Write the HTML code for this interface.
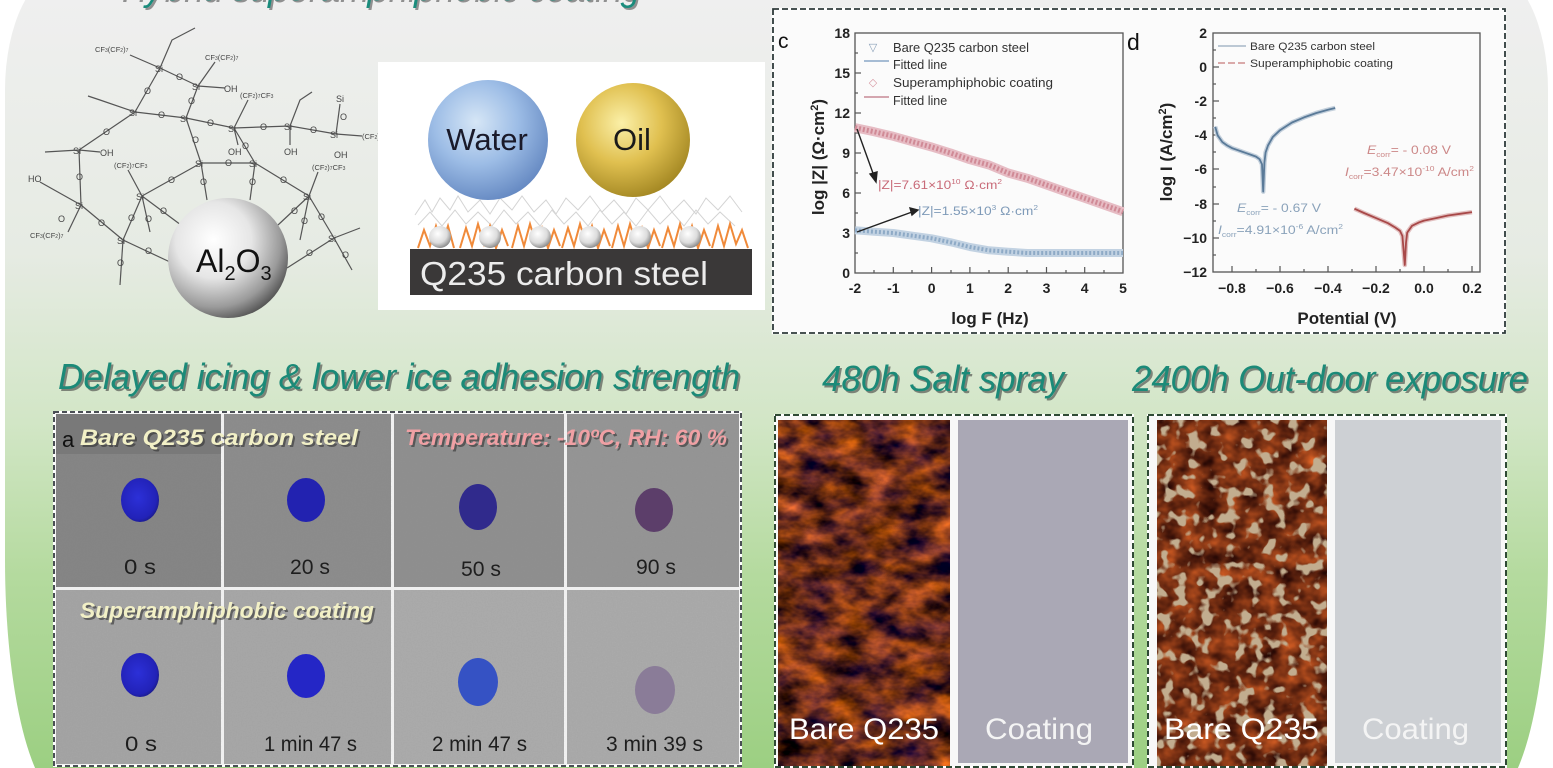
<!DOCTYPE html>
<html><head><meta charset="utf-8"><style>
html,body{margin:0;padding:0;background:#fff;}
svg{display:block;}
text{font-family:"Liberation Sans",Arial,sans-serif;}
</style></head><body>
<svg width="1553" height="768" viewBox="0 0 1553 768" xmlns="http://www.w3.org/2000/svg">
<defs>
 <linearGradient id="bg" x1="0" y1="0" x2="0" y2="768" gradientUnits="userSpaceOnUse">
  <stop offset="0" stop-color="#efefef"/>
  <stop offset="0.33" stop-color="#e6ebe3"/>
  <stop offset="0.55" stop-color="#d2e6c6"/>
  <stop offset="0.75" stop-color="#b4da9e"/>
  <stop offset="1" stop-color="#9ccf82"/>
 </linearGradient>
 <radialGradient id="al" cx="0.38" cy="0.35" r="0.7">
  <stop offset="0" stop-color="#ffffff"/><stop offset="0.45" stop-color="#e6e6e6"/><stop offset="0.8" stop-color="#9a9a9a"/><stop offset="1" stop-color="#505050"/>
 </radialGradient>
 <radialGradient id="water" cx="0.4" cy="0.35" r="0.7">
  <stop offset="0" stop-color="#d6e6f6"/><stop offset="0.5" stop-color="#9dbde6"/><stop offset="1" stop-color="#6286c0"/>
 </radialGradient>
 <radialGradient id="oil" cx="0.4" cy="0.35" r="0.7">
  <stop offset="0" stop-color="#fbf0a8"/><stop offset="0.5" stop-color="#e0c050"/><stop offset="1" stop-color="#a08420"/>
 </radialGradient>
 <radialGradient id="ball" cx="0.4" cy="0.35" r="0.7">
  <stop offset="0" stop-color="#ffffff"/><stop offset="0.6" stop-color="#dcdcdc"/><stop offset="1" stop-color="#808080"/>
 </radialGradient>
 <radialGradient id="dropB" cx="0.45" cy="0.45" r="0.6">
  <stop offset="0" stop-color="#2c30d8"/><stop offset="0.8" stop-color="#2222b8"/><stop offset="1" stop-color="#1a1a80"/>
 </radialGradient>
 <filter id="rust1" x="0" y="0" width="1" height="1" color-interpolation-filters="sRGB">
  <feTurbulence type="fractalNoise" baseFrequency="0.03 0.05" numOctaves="4" seed="7"/>
  <feColorMatrix type="matrix" values="1.5 0 0 0 -0.33  0.75 0 0 0 -0.2  0.1 0.3 0 0 -0.1  0 0 0 0 1"/>
 </filter>
 <filter id="rust2" x="0" y="0" width="1" height="1" color-interpolation-filters="sRGB">
  <feTurbulence type="fractalNoise" baseFrequency="0.05 0.06" numOctaves="3" seed="11"/>
  <feColorMatrix type="matrix" values="1.1 0 0 0 -0.1  0.55 0 0 0 -0.1  0.2 0 0 0 -0.03  0 0 0 0 1"/>
 </filter>
 <filter id="spots" x="0" y="0" width="1" height="1" color-interpolation-filters="sRGB">
  <feTurbulence type="fractalNoise" baseFrequency="0.08" numOctaves="2" seed="3"/>
  <feColorMatrix type="matrix" values="0 0 0 0 0.76  0 0 0 0 0.68  0 0 0 0 0.56  9 0 0 0 -4.9"/>
 </filter>
 <filter id="grain" x="0" y="0" width="1" height="1" color-interpolation-filters="sRGB">
  <feTurbulence type="fractalNoise" baseFrequency="0.8" numOctaves="1" seed="2"/>
  <feColorMatrix type="matrix" values="0 0 0 0 0.5  0 0 0 0 0.5  0 0 0 0 0.5  0 0 0 0.5 -0.15"/>
 </filter>
</defs>

<!-- background shape -->
<rect x="0" y="0" width="1553" height="768" fill="#ffffff"/>
<path d="M 65,-30 H 1488 A 60 120 0 0 1 1548 90 V 560 A 60 240 0 0 1 1488 800 H 65 A 60 240 0 0 1 5 560 V 90 A 60 120 0 0 1 65 -30 Z" fill="url(#bg)"/>

<!-- top title (cut off) -->
<text x="122" y="2" font-size="38" font-style="italic" fill="#333" opacity="0.5" textLength="520" lengthAdjust="spacingAndGlyphs">Hybrid superamphiphobic coating</text>
<text x="120" y="0" font-size="38" font-style="italic" fill="#1a8c7c" textLength="520" lengthAdjust="spacingAndGlyphs">Hybrid superamphiphobic coating</text>

<!-- chemical structure -->
<g stroke="#555" stroke-width="1.2" fill="none">
 <line x1="160" y1="68" x2="198" y2="86"/><line x1="160" y1="68" x2="135" y2="112"/>
 <line x1="198" y1="86" x2="186" y2="118"/><line x1="135" y1="112" x2="186" y2="118"/>
 <line x1="186" y1="118" x2="234" y2="128"/><line x1="234" y1="128" x2="290" y2="126"/>
 <line x1="290" y1="126" x2="336" y2="134"/><line x1="135" y1="112" x2="79" y2="150"/>
 <line x1="186" y1="118" x2="201" y2="163"/><line x1="201" y1="163" x2="255" y2="163"/>
 <line x1="234" y1="128" x2="255" y2="163"/><line x1="201" y1="163" x2="142" y2="196"/>
 <line x1="255" y1="163" x2="309" y2="196"/><line x1="142" y1="196" x2="123" y2="240"/>
 <line x1="81" y1="205" x2="123" y2="240"/><line x1="79" y1="150" x2="81" y2="205"/>
 <line x1="309" y1="196" x2="334" y2="238"/><line x1="142" y1="196" x2="185" y2="228"/>
 <line x1="201" y1="163" x2="207" y2="200"/><line x1="255" y1="163" x2="250" y2="200"/>
 <line x1="309" y1="196" x2="278" y2="225"/><line x1="123" y1="240" x2="170" y2="262"/>
 <line x1="334" y1="238" x2="287" y2="268"/><line x1="142" y1="196" x2="150" y2="232"/>
 <line x1="309" y1="196" x2="300" y2="240"/>
 <polyline points="160,68 172,40 195,28"/><polyline points="160,68 130,55"/>
 <polyline points="198,86 215,62"/><polyline points="198,86 225,88"/>
 <polyline points="135,112 100,100 88,96"/><polyline points="79,150 45,152"/>
 <polyline points="290,126 300,100 312,92"/><polyline points="336,134 340,104"/>
 <polyline points="336,134 362,136"/><polyline points="334,238 360,228"/>
 <polyline points="334,238 352,270"/><polyline points="123,240 120,285"/>
 <polyline points="81,205 40,182"/><polyline points="81,205 68,232"/>
 <polyline points="234,128 238,145"/><polyline points="290,126 290,145"/>
 <polyline points="79,150 100,152"/><polyline points="142,196 128,170"/>
 <polyline points="309,196 318,172"/><polyline points="234,128 248,100"/>
</g>
<g font-size="9" fill="#444">
 <text x="155" y="72">Si</text><text x="192" y="90">Si</text><text x="129" y="116">Si</text>
 <text x="180" y="122">Si</text><text x="228" y="132">Si</text><text x="284" y="130">Si</text>
 <text x="330" y="138">Si</text><text x="73" y="154">Si</text><text x="195" y="167">Si</text>
 <text x="249" y="167">Si</text><text x="136" y="200">Si</text><text x="303" y="200">Si</text>
 <text x="75" y="209">Si</text><text x="117" y="244">Si</text><text x="328" y="242">Si</text>
 <text x="336" y="102">Si</text>
 <text x="176" y="80">O</text><text x="144" y="94">O</text><text x="188" y="104">O</text>
 <text x="158" y="118">O</text><text x="207" y="126">O</text><text x="260" y="130">O</text>
 <text x="310" y="133">O</text><text x="103" y="135">O</text><text x="192" y="143">O</text>
 <text x="225" y="166">O</text><text x="242" y="149">O</text><text x="168" y="183">O</text>
 <text x="280" y="183">O</text><text x="128" y="221">O</text><text x="98" y="226">O</text>
 <text x="76" y="180">O</text><text x="318" y="220">O</text><text x="160" y="214">O</text>
 <text x="200" y="185">O</text><text x="249" y="185">O</text><text x="291" y="214">O</text>
 <text x="145" y="254">O</text><text x="306" y="256">O</text><text x="145" y="222">O</text>
 <text x="301" y="224">O</text><text x="340" y="120">O</text><text x="342" y="258">O</text>
 <text x="117" y="266">O</text><text x="58" y="222">O</text>
</g>
<g font-size="7.5" fill="#444">
 <text x="95" y="52">CF<tspan font-size="5">3</tspan>(CF<tspan font-size="5">2</tspan>)<tspan font-size="5">7</tspan></text>
 <text x="205" y="60">CF<tspan font-size="5">3</tspan>(CF<tspan font-size="5">2</tspan>)<tspan font-size="5">7</tspan></text>
 <text x="240" y="98">(CF<tspan font-size="5">2</tspan>)<tspan font-size="5">7</tspan>CF<tspan font-size="5">3</tspan></text>
 <text x="362" y="139">(CF<tspan font-size="5">2</tspan>)<tspan font-size="5">7</tspan>CF<tspan font-size="5">3</tspan></text>
 <text x="114" y="168">(CF<tspan font-size="5">2</tspan>)<tspan font-size="5">7</tspan>CF<tspan font-size="5">3</tspan></text>
 <text x="312" y="170">(CF<tspan font-size="5">2</tspan>)<tspan font-size="5">7</tspan>CF<tspan font-size="5">3</tspan></text>
 <text x="30" y="238">CF<tspan font-size="5">3</tspan>(CF<tspan font-size="5">2</tspan>)<tspan font-size="5">7</tspan></text>
</g>
<g font-size="9" fill="#444">
 <text x="224" y="92">OH</text><text x="228" y="155">OH</text><text x="284" y="155">OH</text>
 <text x="334" y="158">OH</text><text x="100" y="156">OH</text><text x="28" y="182">HO</text>
</g>
<circle cx="228" cy="258" r="60" fill="url(#al)"/>
<text x="196" y="272" font-size="32" fill="#111">Al<tspan font-size="20" dy="8">2</tspan><tspan dy="-8">O</tspan><tspan font-size="20" dy="8">3</tspan></text>

<!-- water/oil panel -->
<rect x="378" y="62" width="387" height="248" fill="#ffffff"/>
<g stroke="#d4d4d4" stroke-width="1" fill="none">
 <polyline points="415,215 425,200 432,212 440,198 450,210 458,196 468,212 480,200 490,214 500,198 512,210 522,196 534,212 546,200 556,214 566,198 578,210 590,196 602,212 614,200 626,214 636,198 648,210 660,196 672,212 684,200 696,214 706,198 718,210 730,196 742,212"/>
 <polyline points="418,225 430,212 442,226 455,210 466,224 478,212 492,226 504,210 516,224 528,212 540,226 552,210 564,224 576,212 588,226 600,210 612,224 624,212 636,226 648,210 660,224 672,212 684,226 696,210 708,224 720,212 735,226"/>
</g>
<g stroke="#f08a3a" stroke-width="2" fill="none">
 <polyline points="418,248 424,230 430,246 436,226 442,244 448,226 454,248"/>
 <polyline points="460,248 466,228 472,246 478,224 484,244 490,226 496,248 502,230 508,246"/>
 <polyline points="512,248 518,226 524,246 530,224 536,244 542,228 548,248 554,230 560,246"/>
 <polyline points="562,248 568,228 574,246 580,224 586,244 592,226 598,248 604,230 610,246"/>
 <polyline points="612,248 618,226 624,246 630,224 636,244 642,228 648,248 654,230 660,246"/>
 <polyline points="662,248 668,228 674,246 680,224 686,244 692,226 698,248 704,230 710,246"/>
 <polyline points="712,248 718,226 724,246 730,224 736,244 742,230 748,248"/>
</g>
<g fill="url(#ball)">
 <circle cx="440" cy="237" r="11"/><circle cx="490" cy="237" r="11"/><circle cx="540" cy="237" r="11"/>
 <circle cx="590" cy="237" r="11"/><circle cx="640" cy="237" r="11"/><circle cx="690" cy="237" r="11"/>
</g>
<rect x="410" y="249" width="342" height="46" fill="#3a3838"/>
<text x="420" y="285" font-size="33" fill="#ececec" textLength="288" lengthAdjust="spacingAndGlyphs">Q235 carbon steel</text>
<circle cx="488" cy="140" r="60" fill="url(#water)"/>
<circle cx="633" cy="140" r="57" fill="url(#oil)"/>
<text x="487" y="150" font-size="31" fill="#1a1a2a" text-anchor="middle">Water</text>
<text x="632" y="150" font-size="31" fill="#1a1a1a" text-anchor="middle">Oil</text>

<!-- chart panel c+d -->
<rect x="773" y="9" width="732" height="324" fill="#fbfbfb"/>
<rect x="773" y="9" width="732" height="324" fill="none" stroke="#fff" stroke-width="2.5"/>
<rect x="773" y="9" width="732" height="324" fill="none" stroke="#2e3a3a" stroke-width="1.8" stroke-dasharray="6 3"/>

<!-- chart c -->
<text x="778" y="48" font-size="21" fill="#111">c</text>
<rect x="855" y="33" width="268" height="240" fill="none" stroke="#555" stroke-width="1.3"/>
<g stroke="#555" stroke-width="1.2">
 <line x1="855" y1="73" x2="861" y2="73"/><line x1="855" y1="113" x2="861" y2="113"/><line x1="855" y1="153" x2="861" y2="153"/>
 <line x1="855" y1="193" x2="861" y2="193"/><line x1="855" y1="233" x2="861" y2="233"/>
 <line x1="855" y1="53" x2="858" y2="53"/><line x1="855" y1="93" x2="858" y2="93"/><line x1="855" y1="133" x2="858" y2="133"/>
 <line x1="855" y1="173" x2="858" y2="173"/><line x1="855" y1="213" x2="858" y2="213"/><line x1="855" y1="253" x2="858" y2="253"/>
 <line x1="893.3" y1="273" x2="893.3" y2="267"/><line x1="931.6" y1="273" x2="931.6" y2="267"/><line x1="969.9" y1="273" x2="969.9" y2="267"/>
 <line x1="1008.2" y1="273" x2="1008.2" y2="267"/><line x1="1046.5" y1="273" x2="1046.5" y2="267"/><line x1="1084.7" y1="273" x2="1084.7" y2="267"/>
 <line x1="874" y1="273" x2="874" y2="270"/><line x1="912" y1="273" x2="912" y2="270"/><line x1="951" y1="273" x2="951" y2="270"/>
 <line x1="989" y1="273" x2="989" y2="270"/><line x1="1027" y1="273" x2="1027" y2="270"/><line x1="1066" y1="273" x2="1066" y2="270"/><line x1="1104" y1="273" x2="1104" y2="270"/>
</g>
<g font-size="14" font-weight="bold" fill="#222" text-anchor="end">
 <text x="850" y="38">18</text><text x="850" y="78">15</text><text x="850" y="118">12</text>
 <text x="850" y="158">9</text><text x="850" y="198">6</text><text x="850" y="238">3</text><text x="850" y="278">0</text>
</g>
<g font-size="14" font-weight="bold" fill="#222" text-anchor="middle">
 <text x="855" y="293">-2</text><text x="893.3" y="293">-1</text><text x="931.6" y="293">0</text><text x="969.9" y="293">1</text>
 <text x="1008.2" y="293">2</text><text x="1046.5" y="293">3</text><text x="1084.7" y="293">4</text><text x="1123" y="293">5</text>
</g>
<text x="990" y="324" font-size="17" font-weight="bold" fill="#222" text-anchor="middle">log F (Hz)</text>
<text transform="translate(824,157) rotate(-90)" font-size="17" font-weight="bold" fill="#222" text-anchor="middle">log |Z| (Ω·cm<tspan font-size="11" dy="-6">2</tspan><tspan dy="6">)</tspan></text>
<!-- c data -->
<polyline points="855,127.7 874.1,131.7 893.3,136.3 912.4,141.7 931.6,147 950.7,153 969.9,159.7 989,165 1008.2,173 1027.3,178.3 1046.5,185 1065.6,191.7 1084.7,198.3 1103.9,205 1123,211.7" fill="none" stroke="#e6bcc4" stroke-width="9" stroke-linejoin="round"/>
<polyline points="855,127.7 874.1,131.7 893.3,136.3 912.4,141.7 931.6,147 950.7,153 969.9,159.7 989,165 1008.2,173 1027.3,178.3 1046.5,185 1065.6,191.7 1084.7,198.3 1103.9,205 1123,211.7" fill="none" stroke="#d08a96" stroke-width="5" stroke-dasharray="2 2"/>
<polyline points="855,230.3 874.1,231.7 893.3,233 912.4,235.7 931.6,238.3 950.7,242.3 969.9,247 989,250.3 1008.2,251.7 1027.3,253 1046.5,253 1084.7,253 1123,253" fill="none" stroke="#c2d2e2" stroke-width="8" stroke-linejoin="round"/>
<polyline points="855,230.3 874.1,231.7 893.3,233 912.4,235.7 931.6,238.3 950.7,242.3 969.9,247 989,250.3 1008.2,251.7 1027.3,253 1046.5,253 1084.7,253 1123,253" fill="none" stroke="#8eaac6" stroke-width="4" stroke-dasharray="2 2"/>
<!-- arrows -->
<g stroke="#222" stroke-width="1.4" fill="#222">
 <line x1="857" y1="129" x2="874" y2="176"/><polygon points="876,182 870,174 877,172"/>
 <line x1="857" y1="232" x2="912" y2="212"/><polygon points="918,210 910,208 912,215"/>
</g>
<text x="878" y="189" font-size="11.5" fill="#c86a78" textLength="124" lengthAdjust="spacingAndGlyphs">|Z|=7.61×10<tspan font-size="7" dy="-5">10</tspan><tspan dy="5"> Ω·cm</tspan><tspan font-size="7" dy="-5">2</tspan></text>
<text x="918" y="215" font-size="11.5" fill="#7e9ab8" textLength="120" lengthAdjust="spacingAndGlyphs">|Z|=1.55×10<tspan font-size="7" dy="-5">3</tspan><tspan dy="5"> Ω·cm</tspan><tspan font-size="7" dy="-5">2</tspan></text>
<!-- legend c -->
<text x="873" y="51" font-size="11" fill="#8aa0b8" text-anchor="middle">▽</text>
<line x1="864" y1="61" x2="889" y2="61" stroke="#8aa8c8" stroke-width="1.5"/>
<text x="873" y="86" font-size="11" fill="#d89aa4" text-anchor="middle">◇</text>
<line x1="864" y1="97" x2="889" y2="97" stroke="#c88a96" stroke-width="1.5"/>
<g font-size="12.5" fill="#333">
 <text x="893" y="52" textLength="136" lengthAdjust="spacingAndGlyphs">Bare Q235 carbon steel</text>
 <text x="893" y="69">Fitted line</text>
 <text x="893" y="87" textLength="160" lengthAdjust="spacingAndGlyphs">Superamphiphobic coating</text>
 <text x="893" y="105">Fitted line</text>
</g>

<!-- chart d -->
<text x="1127" y="50" font-size="23" fill="#111">d</text>
<rect x="1213" y="33" width="267" height="239" fill="none" stroke="#555" stroke-width="1.3"/>
<g stroke="#555" stroke-width="1.2">
 <line x1="1213" y1="67" x2="1219" y2="67"/><line x1="1213" y1="101" x2="1219" y2="101"/><line x1="1213" y1="135" x2="1219" y2="135"/>
 <line x1="1213" y1="169" x2="1219" y2="169"/><line x1="1213" y1="204" x2="1219" y2="204"/><line x1="1213" y1="238" x2="1219" y2="238"/>
 <line x1="1213" y1="50" x2="1216" y2="50"/><line x1="1213" y1="84" x2="1216" y2="84"/><line x1="1213" y1="118" x2="1216" y2="118"/>
 <line x1="1213" y1="152" x2="1216" y2="152"/><line x1="1213" y1="187" x2="1216" y2="187"/><line x1="1213" y1="221" x2="1216" y2="221"/><line x1="1213" y1="255" x2="1216" y2="255"/>
 <line x1="1232" y1="272" x2="1232" y2="266"/><line x1="1280" y1="272" x2="1280" y2="266"/><line x1="1328" y1="272" x2="1328" y2="266"/>
 <line x1="1376" y1="272" x2="1376" y2="266"/><line x1="1424" y1="272" x2="1424" y2="266"/><line x1="1472" y1="272" x2="1472" y2="266"/>
 <line x1="1256" y1="272" x2="1256" y2="269"/><line x1="1304" y1="272" x2="1304" y2="269"/><line x1="1352" y1="272" x2="1352" y2="269"/>
 <line x1="1400" y1="272" x2="1400" y2="269"/><line x1="1448" y1="272" x2="1448" y2="269"/>
</g>
<g font-size="14" font-weight="bold" fill="#222" text-anchor="end">
 <text x="1207" y="38">2</text><text x="1207" y="72">0</text><text x="1207" y="106">-2</text><text x="1207" y="140">-4</text>
 <text x="1207" y="174">-6</text><text x="1207" y="209">-8</text><text x="1207" y="243">−10</text><text x="1207" y="277">−12</text>
</g>
<g font-size="14" font-weight="bold" fill="#222" text-anchor="middle">
 <text x="1232" y="293">−0.8</text><text x="1280" y="293">−0.6</text><text x="1328" y="293">−0.4</text>
 <text x="1376" y="293">−0.2</text><text x="1424" y="293">0.0</text><text x="1472" y="293">0.2</text>
</g>
<text x="1347" y="324" font-size="17" font-weight="bold" fill="#222" text-anchor="middle">Potential (V)</text>
<text transform="translate(1172,152) rotate(-90)" font-size="17" font-weight="bold" fill="#222" text-anchor="middle">log I (A/cm<tspan font-size="11" dy="-6">2</tspan><tspan dy="6">)</tspan></text>
<!-- d data -->
<polyline points="1215.2,126.7 1217.6,135.3 1222.4,142.1 1227.2,145.5 1232,148.1 1236.8,149.8 1241.6,151.5 1246.4,153.2 1251.2,154.9 1256,156.6 1259.6,159.2 1262,164.3 1263.2,191.6 1264.4,162.6 1265.6,152.4 1268,145.5 1272.8,137 1280,130.2 1292,122.5 1304,117.4 1316,113.1 1328,109.7 1335.2,108" fill="none" stroke="#c4d0dc" stroke-width="4.5" stroke-linejoin="round"/>
<polyline points="1215.2,126.7 1217.6,135.3 1222.4,142.1 1227.2,145.5 1232,148.1 1236.8,149.8 1241.6,151.5 1246.4,153.2 1251.2,154.9 1256,156.6 1259.6,159.2 1262,164.3 1263.2,191.6 1264.4,162.6 1265.6,152.4 1268,145.5 1272.8,137 1280,130.2 1292,122.5 1304,117.4 1316,113.1 1328,109.7 1335.2,108" fill="none" stroke="#5a7a98" stroke-width="1.8" stroke-linejoin="round"/>
<polyline points="1354.4,208.7 1364,213 1376,218.1 1388,223.2 1395.2,227.5 1400,230.9 1402.4,236 1404.8,265 1406,242.8 1407.2,232.6 1412,225.8 1419.2,222.3 1424,220.6 1436,218.1 1448,215.5 1460,213.8 1472,212.1" fill="none" stroke="#e2c0c0" stroke-width="4.5" stroke-linejoin="round"/>
<polyline points="1354.4,208.7 1364,213 1376,218.1 1388,223.2 1395.2,227.5 1400,230.9 1402.4,236 1404.8,265 1406,242.8 1407.2,232.6 1412,225.8 1419.2,222.3 1424,220.6 1436,218.1 1448,215.5 1460,213.8 1472,212.1" fill="none" stroke="#a84848" stroke-width="1.8" stroke-linejoin="round"/>
<!-- annotations d -->
<g font-size="11.5" fill="#cc8888">
 <text x="1367" y="154" textLength="84" lengthAdjust="spacingAndGlyphs"><tspan font-style="italic">E</tspan><tspan font-size="7" dy="3">corr</tspan><tspan dy="-3">= - 0.08 V</tspan></text>
 <text x="1345" y="176" textLength="129" lengthAdjust="spacingAndGlyphs"><tspan font-style="italic">I</tspan><tspan font-size="7" dy="3">corr</tspan><tspan dy="-3">=3.47×10</tspan><tspan font-size="7" dy="-5">-10</tspan><tspan dy="5"> A/cm</tspan><tspan font-size="7" dy="-5">2</tspan></text>
</g>
<g font-size="11.5" fill="#8aa2ba">
 <text x="1237" y="212" textLength="84" lengthAdjust="spacingAndGlyphs"><tspan font-style="italic">E</tspan><tspan font-size="7" dy="3">corr</tspan><tspan dy="-3">= - 0.67 V</tspan></text>
 <text x="1218" y="234" textLength="125" lengthAdjust="spacingAndGlyphs"><tspan font-style="italic">I</tspan><tspan font-size="7" dy="3">corr</tspan><tspan dy="-3">=4.91×10</tspan><tspan font-size="7" dy="-5">-6</tspan><tspan dy="5"> A/cm</tspan><tspan font-size="7" dy="-5">2</tspan></text>
</g>
<!-- legend d -->
<line x1="1218" y1="46" x2="1246" y2="46" stroke="#a8b8c8" stroke-width="1.4"/>
<line x1="1218" y1="63" x2="1246" y2="63" stroke="#d09090" stroke-width="1.4" stroke-dasharray="7 3"/>
<g font-size="11" fill="#333">
 <text x="1250" y="50" textLength="125" lengthAdjust="spacingAndGlyphs">Bare Q235 carbon steel</text>
 <text x="1250" y="67" textLength="143" lengthAdjust="spacingAndGlyphs">Superamphiphobic coating</text>
</g>

<!-- section titles -->
<g font-size="36" font-style="italic">
 <text x="60" y="391" fill="#333" opacity="0.55" textLength="682" lengthAdjust="spacingAndGlyphs">Delayed icing &amp; lower ice adhesion strength</text>
 <text x="58" y="389" fill="#1b8a78" textLength="682" lengthAdjust="spacingAndGlyphs">Delayed icing &amp; lower ice adhesion strength</text>
 <text x="824" y="393" fill="#333" opacity="0.55" textLength="242" lengthAdjust="spacingAndGlyphs">480h Salt spray</text>
 <text x="822" y="391" fill="#1b8a78" textLength="242" lengthAdjust="spacingAndGlyphs">480h Salt spray</text>
 <text x="1134" y="393" fill="#333" opacity="0.55" textLength="396" lengthAdjust="spacingAndGlyphs">2400h Out-door exposure</text>
 <text x="1132" y="391" fill="#1b8a78" textLength="396" lengthAdjust="spacingAndGlyphs">2400h Out-door exposure</text>
</g>

<!-- icing photo grid -->
<rect x="54" y="412" width="687" height="354" fill="#f4f4f4"/>
<rect x="56" y="414" width="165" height="173" fill="#858585"/>
<rect x="224" y="414" width="167" height="173" fill="#8c8c8c"/>
<rect x="394" y="414" width="170" height="173" fill="#8f8f8f"/>
<rect x="567" y="414" width="172" height="173" fill="#959595"/>
<rect x="56" y="590" width="165" height="174" fill="#a4a4a4"/>
<rect x="224" y="590" width="167" height="174" fill="#a7a7a7"/>
<rect x="394" y="590" width="170" height="174" fill="#ababab"/>
<rect x="567" y="590" width="172" height="174" fill="#aaaaaa"/>
<rect x="56" y="414" width="165" height="40" fill="#6e6e6e" opacity="0.5"/>
<rect x="56" y="414" width="683" height="350" filter="url(#grain)" opacity="0.35"/>
<rect x="222" y="414" width="2" height="350" fill="#f0f0f0"/>
<rect x="392" y="414" width="2" height="350" fill="#f0f0f0"/>
<rect x="565" y="414" width="2" height="350" fill="#f0f0f0"/>
<rect x="56" y="587" width="683" height="3" fill="#f0f0f0"/>
<rect x="54" y="412" width="687" height="354" fill="none" stroke="#fff" stroke-width="2"/>
<rect x="54" y="412" width="687" height="354" fill="none" stroke="#4a4f55" stroke-width="2" stroke-dasharray="5 3"/>
<!-- drops -->
<ellipse cx="140" cy="500" rx="19" ry="22" fill="url(#dropB)"/>
<ellipse cx="306" cy="500" rx="19" ry="22" fill="#2222b0"/>
<ellipse cx="478" cy="507" rx="19" ry="23" fill="#302a8c"/>
<ellipse cx="654" cy="510" rx="19" ry="22" fill="#5c3e6a"/>
<ellipse cx="140" cy="675" rx="19" ry="22" fill="url(#dropB)"/>
<ellipse cx="306" cy="676" rx="19" ry="22" fill="#2426c6"/>
<ellipse cx="478" cy="682" rx="20" ry="24" fill="#3552c4"/>
<ellipse cx="655" cy="690" rx="20" ry="24" fill="#8a7c98"/>
<!-- grid labels -->
<g font-size="21" fill="#1e1e1e">
 <text x="124" y="574" textLength="32" lengthAdjust="spacingAndGlyphs">0 s</text>
 <text x="290" y="574" textLength="40" lengthAdjust="spacingAndGlyphs">20 s</text>
 <text x="461" y="576" textLength="40" lengthAdjust="spacingAndGlyphs">50 s</text>
 <text x="636" y="574" textLength="40" lengthAdjust="spacingAndGlyphs">90 s</text>
 <text x="125" y="751" textLength="32" lengthAdjust="spacingAndGlyphs">0 s</text>
 <text x="264" y="751" textLength="93" lengthAdjust="spacingAndGlyphs">1 min 47 s</text>
 <text x="432" y="751" textLength="95" lengthAdjust="spacingAndGlyphs">2 min 47 s</text>
 <text x="606" y="751" textLength="97" lengthAdjust="spacingAndGlyphs">3 min 39 s</text>
</g>
<text x="62" y="447" font-size="22" fill="#111">a</text>
<g font-size="22" font-style="italic" font-weight="bold">
 <text x="82" y="447" fill="#333" opacity="0.6" textLength="278" lengthAdjust="spacingAndGlyphs">Bare Q235 carbon steel</text>
 <text x="80" y="445" fill="#f2f0c6" textLength="278" lengthAdjust="spacingAndGlyphs">Bare Q235 carbon steel</text>
 <text x="407" y="447" fill="#333" opacity="0.6" textLength="322" lengthAdjust="spacingAndGlyphs">Temperature: -10ºC, RH: 60 %</text>
 <text x="405" y="445" fill="#f0a0a4" textLength="322" lengthAdjust="spacingAndGlyphs">Temperature: -10ºC, RH: 60 %</text>
 <text x="82" y="620" fill="#333" opacity="0.6" textLength="294" lengthAdjust="spacingAndGlyphs">Superamphiphobic coating</text>
 <text x="80" y="618" fill="#f2f0c6" textLength="294" lengthAdjust="spacingAndGlyphs">Superamphiphobic coating</text>
</g>

<!-- salt spray -->
<rect x="775" y="415" width="358" height="352" fill="#f8f8f8"/>
<rect x="778" y="420" width="172" height="348" fill="#7a3418"/>
<rect x="778" y="420" width="172" height="348" filter="url(#rust1)"/>
<rect x="958" y="420" width="170" height="343" fill="#aaa8b5"/>
<rect x="775" y="415" width="358" height="352" fill="none" stroke="#fff" stroke-width="2"/>
<rect x="775" y="415" width="358" height="352" fill="none" stroke="#2f4a35" stroke-width="2" stroke-dasharray="6 3"/>
<text x="789" y="739" font-size="30" fill="#ffffff" textLength="150" lengthAdjust="spacingAndGlyphs">Bare Q235</text>
<text x="985" y="739" font-size="30" fill="#f4f4f4" textLength="108" lengthAdjust="spacingAndGlyphs">Coating</text>

<!-- outdoor -->
<rect x="1148" y="415" width="358" height="352" fill="#f8f8f8"/>
<rect x="1157" y="420" width="170" height="348" fill="#7e3616"/>
<rect x="1157" y="420" width="170" height="348" filter="url(#rust2)" opacity="0.8"/>
<rect x="1157" y="420" width="170" height="348" filter="url(#spots)"/>
<rect x="1335" y="420" width="166" height="343" fill="#cdd0d4"/>
<rect x="1148" y="415" width="358" height="352" fill="none" stroke="#fff" stroke-width="2"/>
<rect x="1148" y="415" width="358" height="352" fill="none" stroke="#2f4a35" stroke-width="2" stroke-dasharray="6 3"/>
<text x="1164" y="739" font-size="30" fill="#ffffff" textLength="155" lengthAdjust="spacingAndGlyphs">Bare Q235</text>
<text x="1362" y="739" font-size="30" fill="#f4f4f4" textLength="107" lengthAdjust="spacingAndGlyphs">Coating</text>
</svg>
</body></html>
